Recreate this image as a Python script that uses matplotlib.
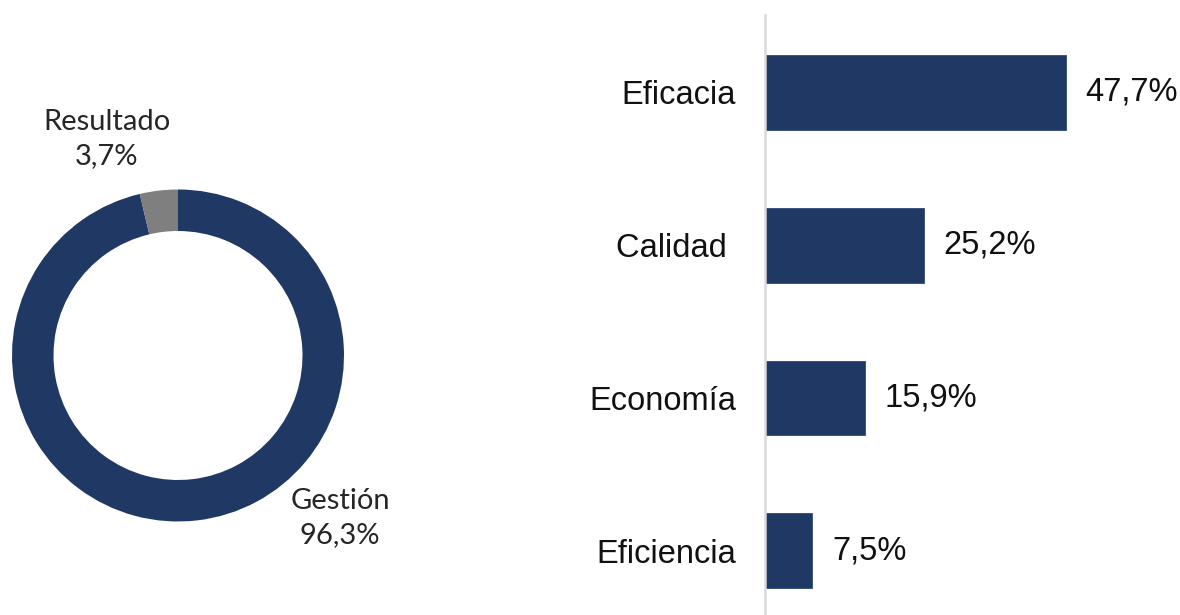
import matplotlib
matplotlib.use("Agg")
import matplotlib.pyplot as plt

# Data
donut_labels = ["Gestión", "Resultado"]
donut_values = [96.3, 3.7]
donut_colors = ["#203864", "#7f7f7f"]

bar_categories = ["Eficacia", "Calidad ", "Economía", "Eficiencia"]
bar_values = [47.7, 25.2, 15.9, 7.5]
bar_color = "#203864"

W, H = 1180, 615
fig = plt.figure(figsize=(W / 100, H / 100), dpi=100)

def px_axes(x0, y0, x1, y1):
    return fig.add_axes([x0 / W, 1 - y1 / H, (x1 - x0) / W, (y1 - y0) / H])

# Donut
ax1 = px_axes(12, 189, 344, 522)
wedges, _ = ax1.pie(donut_values, colors=donut_colors, startangle=90, counterclock=False,
                    radius=1.0, wedgeprops=dict(width=0.25, edgecolor="none"))
ax1.set_xlim(-1, 1)
ax1.set_ylim(-1, 1)
ax1.set_aspect("equal")
ax1.axis("off")

lab_font = dict(family=["Lato", "DejaVu Sans"], fontsize=21, color="#262626",
                ha="center", va="center", linespacing=1.4)
def fmt(v):
    return f"{v:.1f}".replace(".", ",") + "%"
fig.text(107 / W, 1 - 139 / H, f"{donut_labels[1]}\n{fmt(donut_values[1])}", **lab_font)
fig.text(340 / W, 1 - 518 / H, f"{donut_labels[0]}\n{fmt(donut_values[0])}", **lab_font)

# Bars
ax2 = px_axes(765, 15, 1180, 615)
ypos = list(range(len(bar_categories)))
ax2.barh(ypos, bar_values, height=0.49, color=bar_color, edgecolor="#2f4a78", linewidth=0.6)
ax2.set_xlim(0, 415 / 6.31)
ax2.set_ylim(3.42, -0.507)
for s in ["top", "right", "bottom"]:
    ax2.spines[s].set_visible(False)
ax2.spines["left"].set_color("#d9d9d9")
ax2.spines["left"].set_linewidth(1.8)
ax2.set_xticks([])
ax2.set_yticks(ypos)
ax2.set_yticklabels(bar_categories, family=["Liberation Sans", "DejaVu Sans"], fontsize=23.5, color="#111111")
ax2.tick_params(axis="y", length=0, pad=21)
for y, v in zip(ypos, bar_values):
    ax2.text(v + 3.1, y, fmt(v), va="center", ha="left",
             family=["Liberation Sans", "DejaVu Sans"], fontsize=23.5, color="#111111")
ax2.patch.set_alpha(0)

fig.savefig("out.png", dpi=100)
